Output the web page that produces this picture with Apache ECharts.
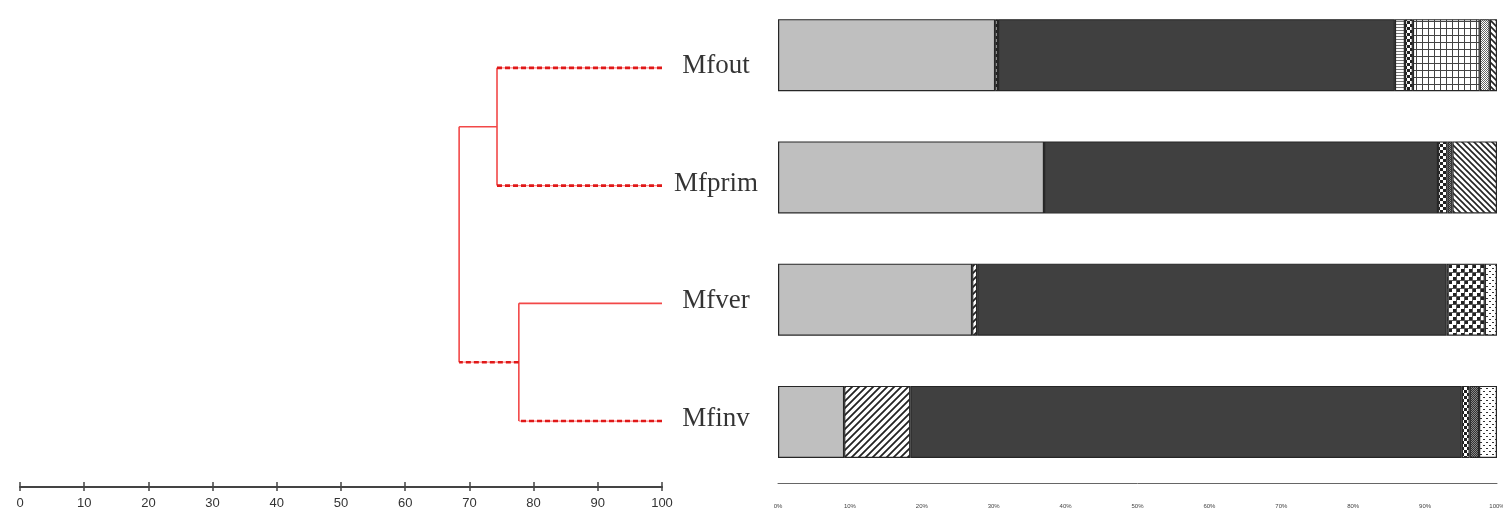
<!DOCTYPE html>
<html>
<head>
<meta charset="utf-8">
<script src="https://cdn.jsdelivr.net/npm/echarts@6/dist/echarts.min.js"></script>
<style>
  html, body { margin: 0; padding: 0; background: #fff; }
  #chart { width: 1503px; height: 512px; }
</style>
</head>
<body>
<div id="chart"></div>
<script>
// Samples, top to bottom
const samples = ['Mfout', 'Mfprim', 'Mfver', 'Mfinv'];

// Cluster linkage: [nodeA, nodeB, similarity]; nodes 0-3 are samples, 4+ are merged clusters
const merges = [[0, 1, 74.3], [2, 3, 77.7], [4, 5, 68.4]];
// Branch leading into each node drawn dashed (true) or solid (false)
const dashedBranch = [true, true, false, true, false, true];

// Composition of each sample (% of total), stacked left to right
const grayPart      = [30.2, 37.0, 27.0, 9.2];
const dottedPart    = [0.4, null, null, null];
const slashPart     = [null, null, 0.7, 9.2];
const darkPart      = [55.2, 54.8, 65.3, 76.7];
const hstripePart   = [1.4, null, null, null];
const dotColPart    = [1.1, 1.3, null, 1.1];
const darkCheckPart = [null, 0.7, null, 1.3];
const gridPart      = [9.3, null, null, null];
const zigzagPart    = [1.4, null, null, null];
const checkerPart   = [null, null, 5.3, null];
const backslashPart = [1.0, 6.2, null, null];
const dotsPart      = [null, null, 1.7, 2.5];

// ---------- fill patterns ----------
function makePattern(w, h, draw) {
  const c = document.createElement('canvas');
  c.width = w; c.height = h;
  const ctx = c.getContext('2d');
  ctx.fillStyle = '#fff';
  ctx.fillRect(0, 0, w, h);
  draw(ctx, w, h);
  return { image: c, repeat: 'repeat' };
}
const patterns = {
  dotted: makePattern(3, 6, (g) => { g.fillStyle = '#222'; g.fillRect(0, 0, 3, 3); }),
  slash: makePattern(7, 7, (g, w, h) => {
    g.strokeStyle = '#222'; g.lineWidth = 1.8;
    g.beginPath();
    g.moveTo(-1, h + 1); g.lineTo(w + 1, -1);
    g.moveTo(-1 - w, h + 1); g.lineTo(1, -1);
    g.moveTo(w - 1, h + 1); g.lineTo(2 * w + 1, -1);
    g.stroke();
  }),
  hstripe: makePattern(4, 3, (g) => { g.fillStyle = '#777'; g.fillRect(0, 0, 4, 1); }),
  dotCol: makePattern(6, 6, (g) => {
    g.fillStyle = '#222'; g.fillRect(0, 0, 3, 3); g.fillRect(3, 3, 3, 3);
  }),
  darkCheck: makePattern(2, 2, (g) => {
    g.fillStyle = '#333'; g.fillRect(0, 0, 2, 2);
    g.fillStyle = '#888'; g.fillRect(0, 0, 1, 1); g.fillRect(1, 1, 1, 1);
  }),
  grid: makePattern(6, 7, (g) => { g.fillStyle = '#444'; g.fillRect(0, 0, 6, 1); g.fillRect(0, 0, 1, 7); }),
  zigzag: makePattern(4, 4, (g) => {
    g.fillStyle = '#666';
    g.fillRect(0, 0, 1, 1); g.fillRect(1, 1, 1, 1); g.fillRect(2, 2, 1, 1); g.fillRect(3, 1, 1, 1);
    g.fillRect(2, 0, 1, 1); g.fillRect(0, 2, 1, 1); g.fillRect(3, 3, 1, 1); g.fillRect(1, 3, 1, 1);
  }),
  checker: makePattern(8, 8, (g) => {
    g.fillStyle = '#222'; g.fillRect(1, 1, 3, 3); g.fillRect(5, 5, 3, 3);
    g.fillStyle = '#555'; g.fillRect(0, 0, 8, 1); g.fillRect(0, 0, 1, 8);
  }),
  backslash: makePattern(6, 6, (g, w, h) => {
    g.strokeStyle = '#222'; g.lineWidth = 1.6;
    g.beginPath();
    g.moveTo(-1, -1); g.lineTo(w + 1, h + 1);
    g.moveTo(-1 - w, -1); g.lineTo(1, h + 1);
    g.moveTo(w - 1, -1); g.lineTo(2 * w + 1, h + 1);
    g.stroke();
  }),
  dots: makePattern(6, 6, (g) => {
    g.fillStyle = '#333'; g.fillRect(1, 1, 2, 1); g.fillRect(4, 4, 2, 1);
  })
};

// ---------- dendrogram geometry from the linkage ----------
const nodeY = samples.map((_, i) => i);
const nodeH = samples.map(() => 100);
const segments = [];
merges.forEach(([a, b, sim]) => {
  [a, b].forEach((c) => {
    segments.push({ pts: [[nodeH[c], nodeY[c]], [sim, nodeY[c]]], dashed: dashedBranch[c] });
  });
  segments.push({ pts: [[sim, nodeY[a]], [sim, nodeY[b]]], dashed: false });
  nodeY.push((nodeY[a] + nodeY[b]) / 2);
  nodeH.push(sim);
});

const treeSeries = [];
segments.forEach((s) => {
  const base = {
    type: 'line', xAxisIndex: 0, yAxisIndex: 0, data: s.pts,
    symbol: 'none', silent: true, animation: false, clip: false, z: 3
  };
  if (s.dashed) {
    treeSeries.push(Object.assign({}, base, { lineStyle: { color: '#ff8a8a', width: 1.2 } }));
    treeSeries.push(Object.assign({}, base, {
      z: 4, lineStyle: { color: '#e01818', width: 2.6, type: [5, 3] }
    }));
  } else {
    treeSeries.push(Object.assign({}, base, { lineStyle: { color: '#f24848', width: 1.6 } }));
  }
});

// Sample names next to the leaves
const leafLabels = {
  type: 'scatter', xAxisIndex: 0, yAxisIndex: 0, silent: true, animation: false, clip: false,
  symbolSize: 0,
  data: samples.map((_, i) => [100, i]),
  label: {
    show: true, position: 'inside', offset: [54, -2],
    formatter: (p) => samples[p.dataIndex],
    fontFamily: '"Liberation Serif", "DejaVu Serif", serif', fontSize: 27, color: '#000'
  }
};

// ---------- stacked composition bars ----------
const parts = [
  [grayPart, '#bfbfbf'],
  [dottedPart, patterns.dotted],
  [slashPart, patterns.slash],
  [darkPart, '#404040'],
  [hstripePart, patterns.hstripe],
  [dotColPart, patterns.dotCol],
  [darkCheckPart, patterns.darkCheck],
  [gridPart, patterns.grid],
  [zigzagPart, patterns.zigzag],
  [checkerPart, patterns.checker],
  [backslashPart, patterns.backslash],
  [dotsPart, patterns.dots]
];
const barSeries = parts.map(([values, fill]) => ({
  type: 'bar', stack: 'share', xAxisIndex: 2, yAxisIndex: 1,
  barWidth: 72, data: values, silent: true, animation: false,
  itemStyle: { color: fill, borderColor: '#262626', borderWidth: 1.2 }
}));

const narrowFont = '"Liberation Sans Narrow", "Liberation Sans", Arial, sans-serif';

const option = {
  backgroundColor: '#fff',
  animation: false,
  grid: [
    { left: 20, width: 642, top: 9, height: 478, outerBoundsMode: 'none', containLabel: false },
    { left: 778, width: 719, top: -6, height: 489, outerBoundsMode: 'none', containLabel: false }
  ],
  xAxis: [
    {
      gridIndex: 0, type: 'value', min: 0, max: 100, interval: 10, position: 'bottom',
      axisLine: { show: true, onZero: false, lineStyle: { color: '#444', width: 2 } },
      axisTick: { show: true, inside: true, length: 5, lineStyle: { color: '#444', width: 1.5 } },
      axisLabel: { margin: 10, fontFamily: narrowFont, fontSize: 13, color: '#333' },
      splitLine: { show: false }
    },
    {
      gridIndex: 0, type: 'value', min: 0, max: 100, interval: 10, position: 'bottom',
      axisLine: { show: false, onZero: false },
      axisTick: { show: true, inside: false, length: 4, lineStyle: { color: '#444', width: 1.5 } },
      axisLabel: { show: false },
      splitLine: { show: false }
    },
    {
      gridIndex: 1, type: 'value', min: 0, max: 100, interval: 10, position: 'bottom',
      axisLine: { show: true, onZero: false, lineStyle: { color: '#666', width: 1 } },
      axisTick: { show: false },
      axisLabel: { margin: 20, fontFamily: narrowFont, fontSize: 6, color: '#444', formatter: '{value}%' },
      splitLine: { show: false }
    }
  ],
  yAxis: [
    { gridIndex: 0, type: 'value', inverse: true, min: -0.5, max: 3.56, show: false },
    { gridIndex: 1, type: 'category', inverse: true, data: samples, show: false }
  ],
  series: treeSeries.concat([leafLabels]).concat(barSeries)
};

const chart = echarts.init(document.getElementById('chart'), null, { renderer: 'canvas' });
chart.setOption(option);
</script>
</body>
</html>
